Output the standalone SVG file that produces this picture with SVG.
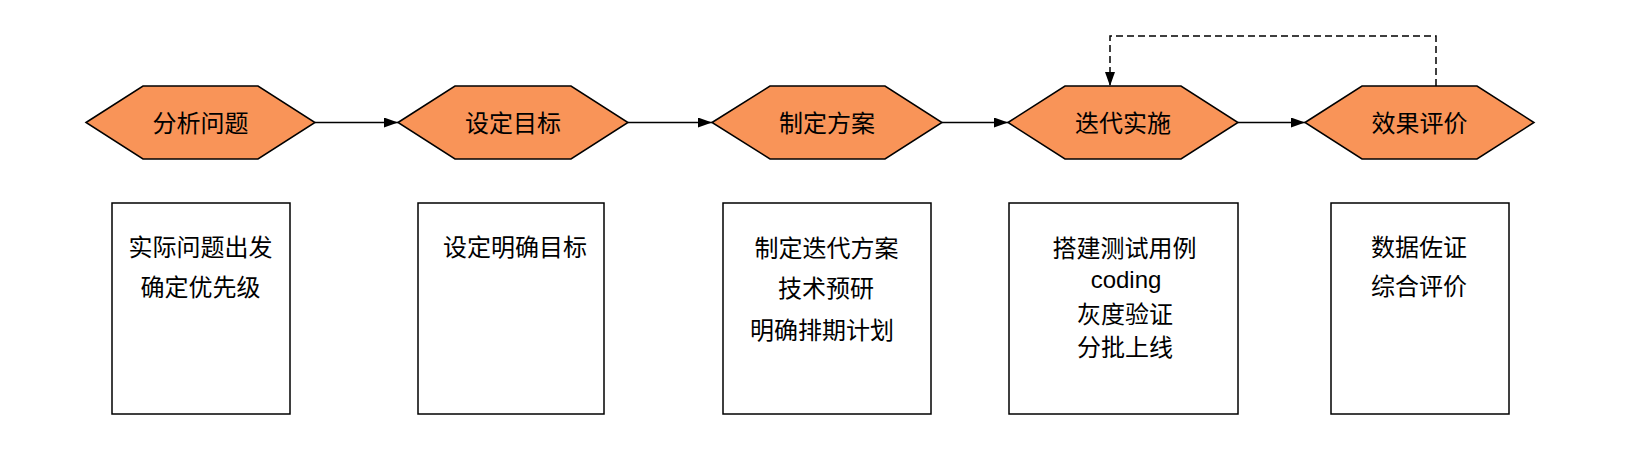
<svg xmlns="http://www.w3.org/2000/svg" width="1634" height="468" viewBox="0 0 1634 468">
<style>
.hex{fill:#F99458;stroke:#000;stroke-width:1.5}
.box{fill:#fff;stroke:#000;stroke-width:1.5}
text{font-family:"Liberation Sans","Noto Sans CJK SC",sans-serif;font-size:24px;fill:#000;text-anchor:middle}
.edge{fill:none;stroke:#000;stroke-width:1.5}
.dash{stroke-dasharray:7 4}
</style>
<defs>
<marker id="arr" markerWidth="14" markerHeight="10" refX="14" refY="5" orient="auto" markerUnits="userSpaceOnUse">
<path d="M0,0 L14,5 L0,10 Z" fill="#000"/>
</marker>
</defs>
<rect width="1634" height="468" fill="#fff"/>
<g id="connectors">
<path class="edge" d="M315,122.5 L398,122.5" marker-end="url(#arr)"/>
<path class="edge" d="M628,122.5 L712,122.5" marker-end="url(#arr)"/>
<path class="edge" d="M942,122.5 L1008,122.5" marker-end="url(#arr)"/>
<path class="edge" d="M1238,122.5 L1305,122.5" marker-end="url(#arr)"/>
<path class="edge dash" d="M1436,86 L1436,36 L1110,36 L1110,86" marker-end="url(#arr)"/>
</g>
<g id="hex1"><polygon class="hex" points="86,122.5 143,86 258,86 315,122.5 258,159 143,159"/><text x="200.5" y="131.5">分析问题</text></g>
<g id="hex2"><polygon class="hex" points="398,122.5 455,86 571,86 628,122.5 571,159 455,159"/><text x="513" y="131.5">设定目标</text></g>
<g id="hex3"><polygon class="hex" points="712,122.5 770,86 885,86 942,122.5 885,159 770,159"/><text x="827" y="131.5">制定方案</text></g>
<g id="hex4"><polygon class="hex" points="1008,122.5 1065,86 1181,86 1238,122.5 1181,159 1065,159"/><text x="1123" y="131.5">迭代实施</text></g>
<g id="hex5"><polygon class="hex" points="1305,122.5 1362,86 1477,86 1534,122.5 1477,159 1362,159"/><text x="1419.5" y="131.5">效果评价</text></g>
<g id="box1"><rect class="box" x="112" y="203" width="178" height="211"/><text x="200.5" y="255.5">实际问题出发</text><text x="200.5" y="296">确定优先级</text></g>
<g id="box2"><rect class="box" x="418" y="203" width="186" height="211"/><text x="515" y="255.5">设定明确目标</text></g>
<g id="box3"><rect class="box" x="723" y="203" width="208" height="211"/><text x="826.5" y="257">制定迭代方案</text><text x="826" y="297">技术预研</text><text x="822" y="339">明确排期计划</text></g>
<g id="box4"><rect class="box" x="1009" y="203" width="229" height="211"/><text x="1124.5" y="256.5">搭建测试用例</text><text x="1126" y="287.5">coding</text><text x="1125" y="323">灰度验证</text><text x="1125" y="355.5">分批上线</text></g>
<g id="box5"><rect class="box" x="1331" y="203" width="178" height="211"/><text x="1419" y="255.5">数据佐证</text><text x="1419" y="294.5">综合评价</text></g>
</svg>
